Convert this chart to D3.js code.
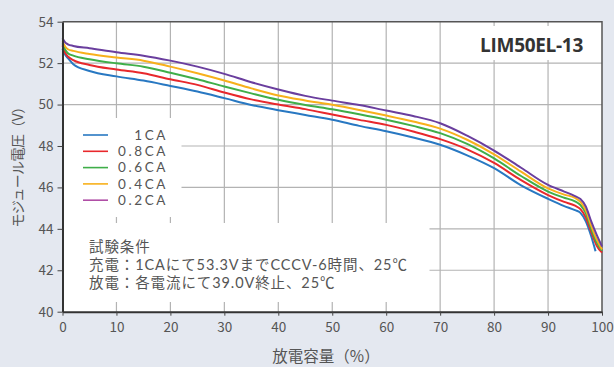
<!DOCTYPE html>
<html>
<head>
<meta charset="utf-8">
<script src="https://cdn.jsdelivr.net/npm/d3@7"></script>
<style>
  body { margin: 0; background: #e4e8f0; }
  svg { display: block; font-family: "Noto Sans CJK JP", "Noto Sans", sans-serif; }
</style>
</head>
<body>
<div id="chart"></div>
<script>
// discharge capacity (%)
var capacity = [0, 0.5, 1, 2, 5, 10, 15, 20, 25, 30, 35, 40, 45, 50, 55, 60, 65, 70, 75, 80, 85, 90, 93, 95, 96, 97, 98, 99, 100]
var capacity1CA = [0, 0.5, 1, 2, 5, 10, 15, 20, 25, 30, 35, 40, 45, 50, 55, 60, 65, 70, 75, 80, 85, 90, 93, 95, 96, 97, 98, 98.8]

// module voltage (V)
var v1CA  = [52.7, 52.4, 52.24, 51.95, 51.62, 51.36, 51.16, 50.9, 50.63, 50.31, 49.98, 49.73, 49.5, 49.27, 48.97, 48.71, 48.41, 48.06, 47.55, 46.93, 46.1, 45.45, 45.1, 44.9, 44.77, 44.36, 43.64, 42.92]
var v08CA = [52.85, 52.5, 52.32, 52.15, 51.91, 51.69, 51.51, 51.22, 50.95, 50.58, 50.25, 50.0, 49.78, 49.52, 49.26, 49.02, 48.7, 48.33, 47.84, 47.18, 46.35, 45.63, 45.3, 45.12, 44.95, 44.55, 43.85, 43.2, 42.85]
var v06CA = [52.95, 52.65, 52.48, 52.36, 52.19, 51.99, 51.83, 51.54, 51.22, 50.87, 50.54, 50.23, 49.98, 49.77, 49.53, 49.27, 48.97, 48.62, 48.1, 47.4, 46.55, 45.8, 45.5, 45.33, 45.15, 44.75, 44.0, 43.35, 42.95]
var v04CA = [53.05, 52.8, 52.67, 52.59, 52.44, 52.27, 52.12, 51.83, 51.51, 51.16, 50.78, 50.44, 50.2, 49.99, 49.74, 49.47, 49.18, 48.84, 48.3, 47.6, 46.76, 45.95, 45.65, 45.5, 45.3, 44.9, 44.15, 43.5, 43.0]
var v02CA = [53.2, 53.0, 52.91, 52.83, 52.72, 52.52, 52.36, 52.12, 51.83, 51.48, 51.08, 50.73, 50.42, 50.19, 49.98, 49.71, 49.45, 49.1, 48.5, 47.78, 46.95, 46.12, 45.8, 45.58, 45.44, 45.08, 44.36, 43.72, 43.15]

var seriesNames = ["1CA", "0.8CA", "0.6CA", "0.4CA", "0.2CA"]
var lineColors = ["#2878c2", "#e8282c", "#3fae49", "#f8b01b", "#6a3e9e"]
var legendColors = ["#2878c2", "#e8282c", "#3fae49", "#f8b01b", "#b04ea6"]

var xTicks = [0, 10, 20, 30, 40, 50, 60, 70, 80, 90, 100]
var yTicks = [40, 42, 44, 46, 48, 50, 52, 54]

var noteLines = ["試験条件", "充電：1CAにて53.3VまでCCCV-6時間、25℃", "放電：各電流にて39.0V終止、25℃"]
var titleText = "LIM50EL-13"

var width = 614, height = 367
var margin = {left: 62.5, right: 12, top: 21.7, bottom: 55.3}

var svg = d3.select("#chart").append("svg")
    .attr("width", width)
    .attr("height", height)

var x = d3.scaleLinear().domain([0, 100]).range([margin.left, width - margin.right])
var y = d3.scaleLinear().domain([40, 54]).range([height - margin.bottom, margin.top])

// plot background
svg.append("rect")
    .attr("x", x(0)).attr("y", y(54))
    .attr("width", x(100) - x(0)).attr("height", y(40) - y(54))
    .attr("fill", "#fff")

// grid
svg.append("g").selectAll("line")
    .data(xTicks.slice(1, -1))
    .enter().append("line")
    .attr("x1", d => x(d)).attr("x2", d => x(d))
    .attr("y1", y(54)).attr("y2", y(40))
    .attr("stroke", "#b3b3b3").attr("stroke-width", 1.2)
svg.append("g").selectAll("line")
    .data(yTicks.slice(1, -1))
    .enter().append("line")
    .attr("x1", x(0)).attr("x2", x(100))
    .attr("y1", d => y(d)).attr("y2", d => y(d))
    .attr("stroke", "#b3b3b3").attr("stroke-width", 1.2)

// white boxes that hide the grid behind legend, note and title
svg.append("rect").attr("x", x(0) + 1).attr("y", 118).attr("width", 118).attr("height", 99).attr("fill", "#fff")
svg.append("rect").attr("x", x(0) + 1).attr("y", 223).attr("width", 366).attr("height", 79).attr("fill", "#fff")
svg.append("rect").attr("x", 466).attr("y", 26).attr("width", 130).attr("height", 34).attr("fill", "#fff")

// frame top / right
svg.append("path")
    .attr("d", "M" + x(0) + "," + y(54) + "H" + x(100) + "V" + y(40))
    .attr("fill", "none").attr("stroke", "#555").attr("stroke-width", 1.5)

// curves
var allSeries = [
    {xs: capacity1CA, vs: v1CA},
    {xs: capacity, vs: v08CA},
    {xs: capacity, vs: v06CA},
    {xs: capacity, vs: v04CA},
    {xs: capacity, vs: v02CA}
]
var line = d3.line()
    .x(d => x(d[0]))
    .y(d => y(d[1]))
    .curve(d3.curveMonotoneX)

allSeries.forEach(function (s, i) {
    var pts = s.xs.map((c, j) => [c, s.vs[j]])
    svg.append("path")
        .attr("d", line(pts))
        .attr("fill", "none")
        .attr("stroke", lineColors[i])
        .attr("stroke-width", 2)
})

// axes
var xAxis = svg.append("g")
    .attr("transform", "translate(0," + y(40) + ")")
    .call(d3.axisBottom(x).tickValues(xTicks).tickSize(4).tickPadding(7).tickSizeOuter(0))
var yAxis = svg.append("g")
    .attr("transform", "translate(" + x(0) + ",0)")
    .call(d3.axisLeft(y).tickValues(yTicks).tickSize(5).tickPadding(4).tickSizeOuter(0))

;[xAxis, yAxis].forEach(function (a) {
    a.select(".domain").attr("stroke", "#333").attr("stroke-width", 2)
    a.selectAll(".tick line").attr("stroke", "#444").attr("stroke-width", 1)
    a.selectAll(".tick text")
        .attr("fill", "#555")
        .style("font-size", "13.5px")
        .style("font-family", "'Noto Sans CJK JP', sans-serif")
})

// legend
var legend = svg.append("g")
legend.selectAll("line")
    .data(seriesNames)
    .enter().append("line")
    .attr("x1", 83).attr("x2", 108)
    .attr("y1", (d, i) => 135 + i * 16.3).attr("y2", (d, i) => 135 + i * 16.3)
    .attr("stroke", (d, i) => legendColors[i]).attr("stroke-width", 1.6)
legend.selectAll("text")
    .data(seriesNames)
    .enter().append("text")
    .attr("x", 168)
    .attr("y", (d, i) => 135 + i * 16.3)
    .attr("dy", "0.36em")
    .attr("text-anchor", "end")
    .attr("fill", "#555")
    .style("font-family", "Lato, sans-serif")
    .style("font-size", "13.5px")
    .style("letter-spacing", "2.6px")
    .text(d => d)

// note (Latin part in Lato, kanji fall back to Noto CJK)
svg.append("g").selectAll("text")
    .data(noteLines)
    .enter().append("text")
    .attr("x", 89)
    .attr("y", (d, i) => 247 + i * 18)
    .attr("dy", "0.35em")
    .attr("fill", "#555")
    .style("font-family", "Lato, 'Noto Sans CJK JP', sans-serif")
    .style("font-size", "14.5px")
    .style("letter-spacing", "0.9px")
    .text(d => d)

// model title
svg.append("text")
    .attr("x", 583).attr("y", 52)
    .attr("text-anchor", "end")
    .attr("fill", "#333")
    .style("font-size", "19px")
    .style("font-weight", "bold")
    .style("font-family", "'Open Sans', sans-serif")
    .style("letter-spacing", "-0.3px")
    .text(titleText)

// axis titles
svg.append("text")
    .attr("x", 326).attr("y", 362)
    .attr("text-anchor", "middle")
    .attr("fill", "#555")
    .style("font-size", "15.5px")
    .text("放電容量（%）")

svg.append("text")
    .attr("transform", "translate(23,164) rotate(-90)")
    .attr("text-anchor", "middle")
    .attr("fill", "#555")
    .style("font-size", "14px")
    .style("letter-spacing", "-0.6px")
    .text("モジュール電圧（V）")
</script>
</body>
</html>
